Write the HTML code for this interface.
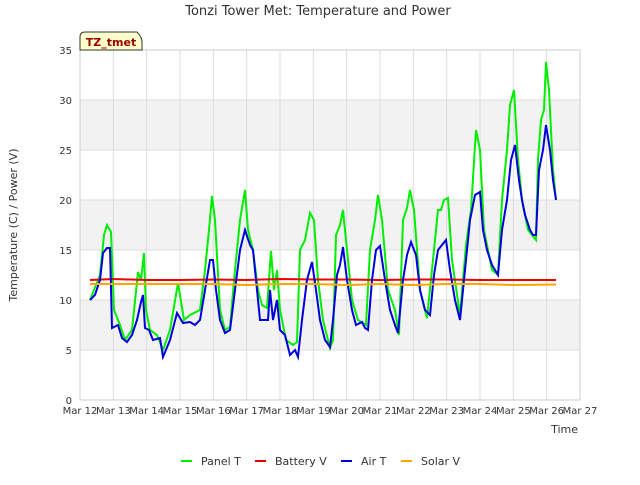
<!DOCTYPE html>
<html><head><meta charset="utf-8"><style>
body{margin:0;background:#fff;font-family:"Liberation Sans","DejaVu Sans",sans-serif}
svg text{font-family:"DejaVu Sans","Liberation Sans",sans-serif}
</style></head><body>
<svg id="c" width="640" height="480">
<rect width="640" height="480" fill="#fff"/>
<text x="318" y="15" text-anchor="middle" font-size="13" fill="#333">Tonzi Tower Met: Temperature and Power</text>
<g id="plot"></g>
<text transform="translate(17,225) rotate(-90)" text-anchor="middle" font-size="11" fill="#333">Temperature (C) / Power (V)</text>
<text x="578" y="433" text-anchor="end" font-size="11" fill="#333">Time</text>
<g>
<path d="M80,50 L80,37 Q80,32 85,32 L137,32 Q142,37 142,42 L142,50 Z" fill="#ffffcc" stroke="#333" stroke-width="1"/>
<text x="111" y="46" text-anchor="middle" font-size="11" font-weight="bold" fill="#990000">TZ_tmet</text>
</g>
<g id="legend"></g>
</svg>
<script>
const yTicks=[0,5,10,15,20,25,30,35];
const xTickLabels=["Mar 12","Mar 13","Mar 14","Mar 15","Mar 16","Mar 17","Mar 18","Mar 19","Mar 20","Mar 21","Mar 22","Mar 23","Mar 24","Mar 25","Mar 26","Mar 27"];
const airDays=[0.30,0.45,0.60,0.69,0.81,0.90,0.96,1.14,1.26,1.41,1.56,1.71,1.83,1.89,1.95,2.07,2.19,2.40,2.49,2.70,2.91,3.09,3.30,3.45,3.60,3.75,3.90,3.99,4.08,4.20,4.35,4.50,4.65,4.80,4.95,5.10,5.19,5.31,5.40,5.55,5.64,5.70,5.79,5.91,6.00,6.15,6.30,6.45,6.54,6.66,6.81,6.96,7.08,7.20,7.35,7.50,7.59,7.71,7.80,7.89,8.01,8.16,8.28,8.46,8.55,8.64,8.76,8.88,9.00,9.15,9.30,9.45,9.54,9.69,9.81,9.93,10.08,10.20,10.35,10.50,10.62,10.74,10.86,10.98,11.10,11.25,11.40,11.58,11.70,11.85,12.00,12.09,12.21,12.36,12.54,12.66,12.81,12.93,13.05,13.17,13.26,13.35,13.50,13.59,13.68,13.77,13.89,13.98,14.10,14.19,14.28];
const airT=[10,10.5,12,14.7,15.2,15.2,7.2,7.5,6.2,5.8,6.5,8,9.8,10.5,7.2,7,6,6.2,4.3,6,8.7,7.7,7.8,7.5,8,11,14,14,11,8,6.7,7,11,15,17,15.5,15,11,8,8,8,11,8,10,7,6.5,4.5,5,4.3,8,12,13.8,11,8,6,5.3,8,12.5,13.5,15.3,12,9,7.5,7.8,7.2,7,12,15,15.4,12,9,7.5,6.7,12,14.5,15.8,14.5,11,9,8.5,12.5,15,15.5,16,13,10,8,14,18,20.5,20.8,17,15,13.5,12.5,17,20,24,25.5,22,20,18.5,17,16.5,16.5,23,25,27.5,25,22,20];
const panelDays=[0.30,0.60,0.72,0.81,0.93,1.02,1.20,1.35,1.56,1.74,1.83,1.92,1.98,2.10,2.31,2.49,2.70,2.94,3.12,3.30,3.60,3.75,3.87,3.96,4.05,4.20,4.35,4.50,4.65,4.80,4.95,5.04,5.19,5.34,5.46,5.61,5.73,5.82,5.91,6.00,6.18,6.39,6.51,6.60,6.75,6.90,7.02,7.14,7.29,7.50,7.59,7.68,7.80,7.89,8.04,8.16,8.34,8.58,8.70,8.85,8.94,9.06,9.24,9.45,9.57,9.69,9.81,9.90,10.02,10.20,10.41,10.62,10.74,10.83,10.92,11.04,11.16,11.40,11.58,11.73,11.88,12.00,12.12,12.36,12.54,12.66,12.81,12.90,13.02,13.14,13.26,13.44,13.68,13.74,13.83,13.92,13.98,14.07,14.19,14.28];
const panelT=[10,12.5,16.5,17.5,16.8,9,7.5,6,7,12.8,12,14.7,9,7,6.5,5,7,11.7,8,8.5,9,13,17,20.4,18,9,7,7.3,13,18,21,17,15,11,9.5,9.2,14.9,11,13,9,6,5.5,5.8,15,16,18.7,18,12,8,5.2,6,16.5,17.5,19,14,10,8,7.5,15,18,20.5,18,11,9,6.5,18,19.2,21,19,11,8.2,15,19,19,20,20.2,14,8.5,15.5,19,27,25,17,13,12.5,20,25,29.5,31,24,20,17,16,24,28,29,33.8,31,23,20];
const battDays=[0.3,1.0,2.0,3.0,4.0,5.0,6.0,7.0,8.0,9.0,10.0,11.0,12.0,13.0,14.28];
const battV=[12.0,12.1,12.0,12.0,12.05,12.0,12.1,12.05,12.05,12.0,12.05,12.05,12.0,12.0,12.0];
const solarDays=[0.3,1.0,2.0,3.0,4.0,5.0,6.0,7.0,8.0,9.0,10.0,11.0,12.0,13.0,14.28];
const solarV=[11.6,11.6,11.6,11.6,11.6,11.5,11.6,11.6,11.5,11.6,11.5,11.6,11.6,11.5,11.55];
const X=d=>80+d*500/15, Y=v=>400-v*10;
const NS="http://www.w3.org/2000/svg";
const plot=document.getElementById('plot');
function mk(tag,attrs,parent){const e=document.createElementNS(NS,tag);for(const k in attrs)e.setAttribute(k,attrs[k]);parent.appendChild(e);return e;}
for(let i=0;i<yTicks.length-1;i++){if(i%2===1){const b=mk('rect',{x:80,y:Y(yTicks[i+1]),width:500,height:Y(yTicks[i])-Y(yTicks[i+1]),fill:'#f2f2f2'},plot);

}}
yTicks.forEach(v=>{const l=mk('line',{x1:80,x2:580,y1:Y(v),y2:Y(v),stroke:'#dddddd'},plot);


const t=mk('text',{x:72,y:Y(v)+4,'text-anchor':'end','font-size':10,fill:'#333'},plot);t.textContent=v;

});
xTickLabels.forEach((s,i)=>{const l=mk('line',{x1:X(i),x2:X(i),y1:50,y2:400,stroke:'#dddddd'},plot);


const t=mk('text',{x:X(i),y:414,'text-anchor':'middle','font-size':10,fill:'#333'},plot);t.textContent=s;

});
mk('rect',{x:80,y:50,width:500,height:350,fill:'none',stroke:'#cccccc'},plot);
function series(days,vals,color,name){const p=mk('polyline',{points:days.map((d,i)=>X(d).toFixed(1)+','+Y(vals[i]).toFixed(1)).join(' '),fill:'none',stroke:color,'stroke-width':2},plot);

}
series(panelDays,panelT,'#00ee00','panel-t-line');
series(battDays,battV,'#ee0000','battery-v-line');
series(airDays,airT,'#0000dd','air-t-line');
series(solarDays,solarV,'#ffa500','solar-v-line');
const leg=document.getElementById('legend');
const legendNames=["Panel T","Battery V","Air T","Solar V"];
const legendColors=['#00ee00','#ee0000','#0000dd','#ffa500'];
const legendX=[181,255,341,401];
legendNames.forEach((n,i)=>{const g=mk('g',{},leg);


mk('line',{x1:legendX[i],x2:legendX[i]+11,y1:461,y2:461,stroke:legendColors[i],'stroke-width':2},g);
const t=mk('text',{x:legendX[i]+20,y:465,'font-size':11,fill:'#333'},g);t.textContent=n;});
</script>
</body></html>
